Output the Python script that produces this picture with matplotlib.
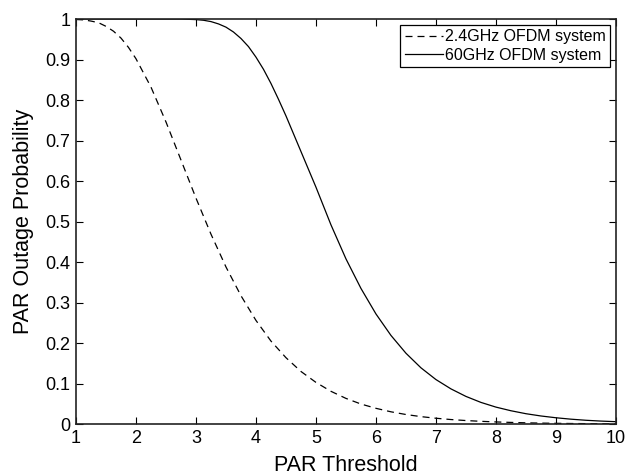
import numpy as np
from matplotlib import pyplot as plt

plt.rcParams['font.family'] = ['Liberation Sans', 'DejaVu Sans']

# 2.4GHz system (dashed): PAR threshold and outage probability
x_24ghz = [1.0, 1.125, 1.25, 1.375, 1.5, 1.625, 1.75, 1.875, 2.0, 2.25, 2.5, 2.75,
           3.0, 3.25, 3.5, 3.75, 4.0, 4.25, 4.5, 4.75, 5.0, 5.25, 5.5, 5.75,
           6.0, 6.25, 6.5, 6.75, 7.0, 7.25, 7.5, 7.75, 8.0, 8.25, 8.5, 8.75,
           9.0, 9.25, 9.5, 9.75, 10.0]
p_24ghz = [0.999, 0.998, 0.995, 0.991, 0.982, 0.970, 0.953, 0.930, 0.902, 0.832,
           0.746, 0.652, 0.558, 0.469, 0.388, 0.317, 0.256, 0.205, 0.164, 0.130,
           0.103, 0.081, 0.0635, 0.0496, 0.039, 0.0304, 0.0237, 0.0185, 0.0145,
           0.0113, 0.0088, 0.0069, 0.0054, 0.0042, 0.0032, 0.0025, 0.002, 0.0015,
           0.0012, 0.0009, 0.0007]

# 60GHz system (solid): PAR threshold and outage probability
x_60ghz = [1.0, 1.5, 2.0, 2.5, 2.75, 3.0, 3.125, 3.25, 3.375, 3.5, 3.625, 3.75,
           3.875, 4.0, 4.125, 4.25, 4.375, 4.5, 4.75, 5.0, 5.25, 5.5, 5.75,
           6.0, 6.25, 6.5, 6.75, 7.0, 7.25, 7.5, 7.75, 8.0, 8.25, 8.5, 8.75,
           9.0, 9.25, 9.5, 9.75, 10.0]
p_60ghz = [1.0, 1.0, 1.0, 1.0, 1.0, 0.9986, 0.997, 0.9937, 0.988, 0.980, 0.968,
           0.952, 0.932, 0.906, 0.876, 0.841, 0.802, 0.761, 0.673, 0.585, 0.492,
           0.408, 0.335, 0.272, 0.219, 0.175, 0.139, 0.110, 0.087, 0.0684,
           0.0536, 0.042, 0.033, 0.0257, 0.0201, 0.0157, 0.0122, 0.0095, 0.0075,
           0.006]

series_labels = ['2.4GHz OFDM system', '60GHz OFDM system']
x_ticks = [1, 2, 3, 4, 5, 6, 7, 8, 9, 10]
y_ticks = [0, 0.1, 0.2, 0.3, 0.4, 0.5, 0.6, 0.7, 0.8, 0.9, 1]
y_tick_labels = ['0', '0.1', '0.2', '0.3', '0.4', '0.5', '0.6', '0.7', '0.8', '0.9', '1']

fig = plt.figure(figsize=(6.29, 4.76), dpi=100)
ax = fig.add_axes([0.1208, 0.109, 0.8584, 0.851])

ax.plot(x_24ghz, p_24ghz, color='k', linewidth=0.9, dashes=(5.6, 4.0),
        label=series_labels[0])
ax.plot(x_60ghz, p_60ghz, color='k', linewidth=0.9, label=series_labels[1])

ax.set_xlim(1, 10)
ax.set_ylim(0, 1)
ax.set_xticks(x_ticks)
ax.set_yticks(y_ticks)
ax.set_yticklabels(y_tick_labels)
ax.tick_params(direction='in', top=True, right=True, length=5, width=0.8,
               labelsize=13, pad=4)
for s in ax.spines.values():
    s.set_linewidth(1.2)
    s.set_color('#222222')

ax.set_xlabel('PAR Threshold', fontsize=15.5, labelpad=6)
ax.set_ylabel('PAR Outage Probability', fontsize=15.5, labelpad=8)

leg = ax.legend(loc='upper right', fontsize=11.5, handlelength=2.4,
                handletextpad=0.1, borderpad=0.3, labelspacing=0.2,
                borderaxespad=0.35, fancybox=False, framealpha=1)
leg.get_frame().set_edgecolor('k')
leg.get_frame().set_linewidth(0.9)

fig.savefig('out.png', dpi=100)
plt.close()
